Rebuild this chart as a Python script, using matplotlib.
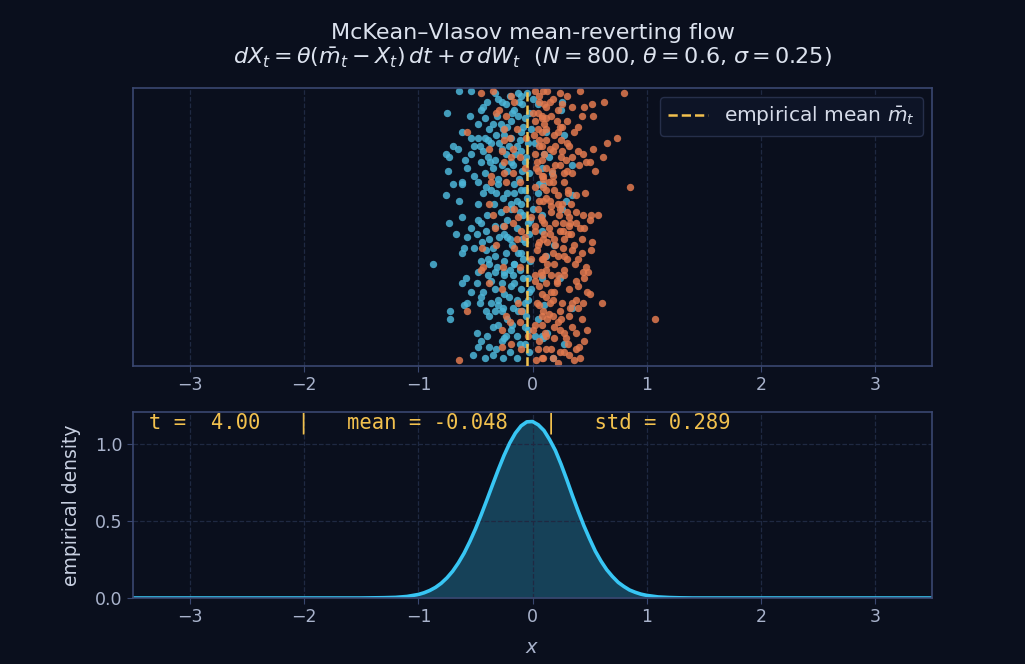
import matplotlib
matplotlib.use("Agg")
import matplotlib.pyplot as plt

# particle positions (x = position, y = jitter row)
blue_x = [-0.64, -0.54, -0.75, -0.55, -0.43, -0.33, -0.27, -0.23, -0.16, -0.42,
          -0.35, -0.48, -0.62, -0.54, -0.48, -0.42, -0.70, -0.65, -0.51, -0.46,
          -0.36, -0.32, -0.26, -0.22, -0.13, -0.09, -0.07, -0.10, -0.76, -0.73,
          -0.59, -0.54, -0.43, -0.39, -0.33, -0.27, -0.57, -0.74, -0.51, -0.42,
          -0.35, -0.19, -0.14, -0.23, -0.17, -0.10, -0.07, -0.27, 0.00, 0.05,
          -0.01, 0.02, -0.13, -0.38, -0.45,
          0.25, 0.26, 0.28, 0.12, 0.10, 0.14, 0.35, 0.17, 0.08,
          -0.70, -0.62, -0.62, -0.76, -0.64, -0.48, -0.48, -0.43, -0.36, -0.30,
          -0.32, -0.26, -0.16, -0.10, -0.10, -0.19, -0.73, -0.62, -0.48, -0.45,
          -0.54, -0.67, -0.57, -0.49, -0.41, -0.38, -0.25, -0.20, -0.60, -0.51,
          -0.62, -0.87, -0.41, -0.39, -0.33, -0.45, -0.38, -0.25, -0.16, -0.07,
          -0.10, -0.04, 0.00, 0.05, 0.06,
          0.09, 0.35, 0.29, 0.26, 0.08, 0.19, 0.12, 0.08,
          -0.62, -0.58, -0.49, -0.54, -0.43, -0.39, -0.33, -0.25, -0.17, -0.11,
          -0.33, -0.25, -0.16, -0.57, -0.46, -0.60, -0.72, -0.72, -0.36, -0.33,
          -0.27, -0.17, -0.13, -0.07, -0.35, -0.19, -0.07, -0.49, -0.45, -0.48,
          -0.38, -0.32, -0.42, -0.26, -0.14, -0.25, -0.07, 0.02, -0.01, 0.05,
          -0.30, -0.41,
          0.08, 0.24, 0.10, 0.35, 0.08, 0.13, 0.28, 0.18, 0.09,
          -0.30, -0.20, -0.40, -0.12, -0.05, -0.31, -0.19, -0.03, -0.28, -0.45,
          -0.39, -0.29, -0.21, -0.04, -0.15, -0.37, -0.22, -0.12, -0.03, -0.30,
          -0.41, -0.22, -0.05, -0.34, -0.14, -0.28, -0.40, -0.08, -0.22, -0.33,
          -0.14, -0.03, -0.29, -0.44, -0.18, -0.35, -0.23, -0.08, -0.31, -0.48,
          -0.20, -0.04, -0.36, -0.27, -0.10, -0.45, -0.21, -0.04, -0.30, -0.38,
          -0.22, -0.06, -0.30, -0.14, -0.40, -0.27, -0.03, -0.20, -0.35, -0.52,
          -0.10, -0.18, -0.08, -0.25, -0.11, -0.06, -0.19, -0.09, -0.16, -0.07,
          -0.19, -0.11, -0.02, -0.26, -0.09, -0.22, -0.13, -0.02, -0.16, -0.25,
          -0.08, -0.19, -0.03, -0.14, -0.26, -0.09, -0.18, -0.04, -0.23, -0.11]
blue_y = [0.99, 0.99, 0.91, 0.90, 0.93, 0.98, 0.95, 0.94, 0.92, 0.89,
          0.87, 0.87, 0.84, 0.82, 0.82, 0.82, 0.79, 0.78, 0.79, 0.79,
          0.80, 0.83, 0.85, 0.86, 0.90, 0.94, 0.89, 0.84, 0.76, 0.75,
          0.74, 0.76, 0.77, 0.75, 0.74, 0.78, 0.71, 0.70, 0.68, 0.69,
          0.71, 0.82, 0.79, 0.76, 0.72, 0.77, 0.73, 0.72, 0.96, 0.94,
          0.85, 0.80, 0.98, 0.85, 0.73,
          0.92, 0.95, 0.83, 0.84, 0.76, 0.75, 0.72, 0.69, 0.71,
          0.65, 0.66, 0.65, 0.61, 0.59, 0.58, 0.66, 0.62, 0.63, 0.65,
          0.62, 0.60, 0.62, 0.63, 0.58, 0.56, 0.51, 0.53, 0.52, 0.51,
          0.49, 0.47, 0.46, 0.47, 0.48, 0.45, 0.47, 0.45, 0.42, 0.42,
          0.40, 0.36, 0.41, 0.38, 0.39, 0.37, 0.36, 0.37, 0.36, 0.44,
          0.40, 0.51, 0.56, 0.62, 0.65,
          0.65, 0.61, 0.59, 0.56, 0.48, 0.43, 0.39, 0.54,
          0.29, 0.31, 0.29, 0.26, 0.26, 0.32, 0.33, 0.32, 0.32, 0.34,
          0.27, 0.25, 0.29, 0.22, 0.22, 0.21, 0.19, 0.16, 0.22, 0.19,
          0.19, 0.20, 0.19, 0.22, 0.13, 0.12, 0.13, 0.11, 0.08, 0.06,
          0.06, 0.05, 0.02, 0.02, 0.02, 0.09, 0.07, 0.10, 0.27, 0.16,
          0.23, 0.19,
          0.31, 0.31, 0.21, 0.20, 0.10, 0.11, 0.07, 0.02, 0.09,
          0.96, 0.97, 0.95, 0.95, 0.98, 0.90, 0.88, 0.91, 0.87, 0.92,
          0.81, 0.80, 0.79, 0.80, 0.76, 0.73, 0.70, 0.67, 0.69, 0.67,
          0.64, 0.62, 0.60, 0.58, 0.59, 0.55, 0.54, 0.54, 0.52, 0.50,
          0.49, 0.47, 0.46, 0.44, 0.43, 0.42, 0.40, 0.38, 0.35, 0.33,
          0.34, 0.31, 0.30, 0.29, 0.27, 0.24, 0.24, 0.23, 0.21, 0.17,
          0.16, 0.17, 0.14, 0.10, 0.10, 0.08, 0.04, 0.04, 0.03, 0.03,
          0.97, 0.91, 0.86, 0.83, 0.81, 0.75, 0.73, 0.70, 0.65, 0.63,
          0.58, 0.55, 0.52, 0.50, 0.45, 0.46, 0.40, 0.37, 0.36, 0.33,
          0.31, 0.28, 0.26, 0.23, 0.20, 0.19, 0.14, 0.12, 0.10, 0.07]

orange_x = [-0.45, -0.35, -0.19, -0.16, -0.29, -0.23, -0.57, -0.25, -0.20, -0.38,
            -0.25, -0.17, -0.27, -0.19, -0.25, -0.11, -0.07, -0.25, -0.17, -0.36,
            0.05, 0.08, 0.05, 0.06, 0.08, 0.00, 0.06, -0.32, -0.14, -0.06,
            0.03, 0.08,
            0.09, 0.13, 0.24, 0.42, 0.80, 0.15, 0.26, 0.12, 0.08, 0.45,
            0.52, 0.63, 0.43, 0.53, 0.21, 0.24, 0.10, 0.08, 0.19, 0.12,
            0.25, 0.74, 0.08, 0.18, 0.26, 0.32, 0.40, 0.44, 0.53, 0.65,
            0.62, 0.29, 0.24, 0.12, 0.41, 0.47, 0.50, 0.35, 0.28, 0.18, 0.09,
            -0.36, -0.23, -0.11, -0.38, -0.23, -0.16, -0.35, -0.17, -0.13, -0.25,
            -0.33, -0.10, -0.14, -0.44, -0.32, -0.16, -0.07, -0.01, 0.02, 0.06,
            0.05, 0.08, -0.01, -0.11, -0.43, -0.26, 0.08,
            0.09, 0.18, 0.19, 0.12, 0.15, 0.09, 0.22, 0.85, 0.31, 0.34,
            0.24, 0.16, 0.38, 0.44, 0.51, 0.57, 0.50, 0.32, 0.27, 0.10,
            0.38, 0.32, 0.45, 0.24, 0.15, 0.27, 0.34, 0.19, 0.09, 0.43,
            0.13, 0.27, 0.35, 0.51, 0.43, 0.18, 0.28, 0.40, 0.09, 0.19,
            0.13, 0.37, 0.47,
            -0.45, -0.38, -0.27, -0.13, -0.10, -0.23, -0.20, -0.27, -0.11, -0.57,
            -0.19, -0.27, -0.10, 0.05, 0.08, -0.64, -0.04, 0.00, 0.06, 0.06,
            0.02, 0.08,
            0.08, 0.16, 0.22, 0.28, 0.44, 0.49, 0.45, 0.38, 0.21, 0.12,
            0.32, 0.48, 0.50, 0.38, 0.19, 0.12, 0.18, 0.35, 0.61, 1.07,
            0.09, 0.24, 0.40, 0.18, 0.13, 0.25, 0.43, 0.08, 0.19, 0.35,
            0.28, 0.12, 0.19, 0.31, 0.41, 0.45, 0.38, 0.12, 0.18, 0.24,
            0.32, 0.42, 0.09,
            0.02, 0.18, 0.30, 0.10, 0.35, 0.02, 0.16, 0.30, 0.12, 0.36,
            0.01, 0.22, 0.30, 0.15, 0.02, 0.35, 0.20, 0.05, 0.30, 0.14,
            0.28, 0.02, 0.22, 0.38, 0.05, 0.16, 0.30, 0.02, 0.20, 0.42,
            0.10, 0.28, 0.04, 0.22, 0.36, 0.12, 0.28, 0.02, 0.40, 0.16,
            0.04, 0.26, 0.44, 0.14, 0.32, 0.02, 0.24, 0.38, 0.06, 0.16,
            0.28, 0.03, 0.22, 0.36, 0.48, 0.52, 0.46, 0.40, 0.55, 0.33,
            0.06, 0.22, 0.12, 0.26, 0.06, 0.20, 0.10, 0.25, 0.04, 0.17,
            0.09, 0.31, 0.12, 0.26, 0.07, 0.23, 0.14, 0.31, 0.06, 0.20,
            0.11, 0.30, 0.07, 0.21, 0.15, 0.33, 0.08, 0.22, 0.29, 0.11]
orange_y = [0.98, 0.99, 0.97, 0.95, 0.92, 0.90, 0.84, 0.85, 0.82, 0.78,
            0.81, 0.78, 0.77, 0.75, 0.73, 0.75, 0.71, 0.69, 0.69, 0.68,
            0.91, 0.89, 0.85, 0.79, 0.74, 0.91, 0.97, 0.91, 0.85, 0.82,
            0.71, 0.68,
            0.99, 0.99, 0.98, 0.99, 0.98, 0.95, 0.94, 0.93, 0.90, 0.93,
            0.94, 0.95, 0.90, 0.90, 0.88, 0.86, 0.87, 0.84, 0.83, 0.81,
            0.81, 0.82, 0.79, 0.77, 0.77, 0.79, 0.77, 0.76, 0.78, 0.80,
            0.75, 0.74, 0.72, 0.71, 0.72, 0.73, 0.73, 0.69, 0.69, 0.68, 0.68,
            0.66, 0.66, 0.66, 0.58, 0.56, 0.56, 0.54, 0.51, 0.53, 0.50,
            0.49, 0.48, 0.45, 0.42, 0.43, 0.42, 0.46, 0.53, 0.48, 0.59,
            0.43, 0.38, 0.38, 0.35, 0.35, 0.35, 0.52,
            0.67, 0.66, 0.63, 0.63, 0.59, 0.59, 0.58, 0.64, 0.63, 0.58,
            0.56, 0.55, 0.55, 0.54, 0.54, 0.54, 0.52, 0.53, 0.51, 0.51,
            0.51, 0.50, 0.49, 0.48, 0.47, 0.48, 0.47, 0.45, 0.45, 0.45,
            0.44, 0.42, 0.41, 0.41, 0.40, 0.40, 0.39, 0.38, 0.38, 0.36,
            0.36, 0.36, 0.35,
            0.34, 0.29, 0.27, 0.22, 0.19, 0.17, 0.15, 0.12, 0.15, 0.19,
            0.07, 0.06, 0.05, 0.05, 0.02, 0.01, 0.10, 0.12, 0.21, 0.28,
            0.32, 0.25,
            0.32, 0.32, 0.32, 0.32, 0.33, 0.33, 0.31, 0.30, 0.29, 0.29,
            0.27, 0.26, 0.25, 0.23, 0.26, 0.24, 0.23, 0.22, 0.22, 0.16,
            0.19, 0.19, 0.20, 0.17, 0.16, 0.16, 0.16, 0.14, 0.13, 0.13,
            0.11, 0.10, 0.09, 0.07, 0.06, 0.08, 0.05, 0.05, 0.02, 0.04,
            0.03, 0.02, 0.02,
            0.99, 0.96, 0.97, 0.94, 0.93, 0.88, 0.90, 0.88, 0.85, 0.84,
            0.83, 0.84, 0.80, 0.78, 0.76, 0.75, 0.72, 0.70, 0.70, 0.66,
            0.66, 0.64, 0.61, 0.61, 0.56, 0.57, 0.55, 0.50, 0.51, 0.49,
            0.47, 0.45, 0.41, 0.39, 0.43, 0.34, 0.34, 0.30, 0.28, 0.26,
            0.22, 0.22, 0.22, 0.18, 0.17, 0.14, 0.12, 0.11, 0.08, 0.05,
            0.04, 0.01, 0.00, 0.01, 0.12, 0.44, 0.62, 0.86, 0.70, 0.51,
            0.95, 0.92, 0.89, 0.86, 0.81, 0.79, 0.76, 0.75, 0.73, 0.70,
            0.64, 0.62, 0.60, 0.58, 0.53, 0.54, 0.49, 0.47, 0.44, 0.43,
            0.39, 0.38, 0.33, 0.30, 0.22, 0.20, 0.17, 0.15, 0.09, 0.11]

# empirical density curve
dens_x = [-3.5, -1.5, -1.4, -1.3, -1.2, -1.1, -1.0, -0.95, -0.9, -0.85, -0.8,
          -0.75, -0.7, -0.65, -0.6, -0.55, -0.5, -0.45, -0.4, -0.35, -0.3,
          -0.25, -0.2, -0.15, -0.1, -0.05, 0.0, 0.05, 0.1, 0.15, 0.2, 0.25,
          0.3, 0.35, 0.4, 0.45, 0.5, 0.55, 0.6, 0.65, 0.7, 0.75, 0.8, 0.85,
          0.9, 0.95, 1.0, 1.1, 1.2, 1.3, 1.4, 1.5, 3.5]
dens_y = [0.0, 0.0, 0.001, 0.002, 0.004, 0.010, 0.023, 0.034, 0.049, 0.069, 0.096,
          0.131, 0.174, 0.228, 0.291, 0.366, 0.449, 0.541, 0.638, 0.737, 0.835,
          0.927, 1.008, 1.073, 1.12, 1.146, 1.148, 1.127, 1.09, 1.03, 0.96, 0.87,
          0.77, 0.665, 0.565, 0.47, 0.385, 0.305, 0.24, 0.184, 0.14, 0.102, 0.075, 0.052,
          0.037, 0.025, 0.017, 0.007, 0.003, 0.001, 0.0, 0.0, 0.0]

m_bar = -0.048
t_now = 4.00
std_now = 0.289

BG = "#0a0f1d"
SPINE = "#3a4770"
TICK = "#a9b3cc"
GRID = "#1f2942"
BLUE = "#4db6d8"
ORANGE = "#e27a4f"
GOLD = "#f2c14e"
CURVE = "#38c6f4"

plt.rcParams['font.family'] = ['DejaVu Sans']
fig = plt.figure(figsize=(10.25, 6.64), dpi=100, facecolor=BG)
ax1 = fig.add_axes([0.1298, 0.4488, 0.7795, 0.4187])
ax2 = fig.add_axes([0.1298, 0.0994, 0.7795, 0.2801])

for ax in (ax1, ax2):
    ax.set_facecolor(BG)
    for s in ax.spines.values():
        s.set_color(SPINE)
        s.set_linewidth(1.2)
    ax.tick_params(colors=TICK, labelsize=12.5, length=4, color=SPINE)
    ax.set_xlim(-3.5, 3.5)
    ax.set_xticks([-3, -2, -1, 0, 1, 2, 3])
    ax.grid(True, color=GRID, linestyle="--", linewidth=0.9)

ax1.scatter(blue_x, blue_y, s=28, color=BLUE, alpha=0.85, linewidths=0, zorder=2)
ax1.scatter(orange_x, orange_y, s=28, color=ORANGE, alpha=0.85, linewidths=0, zorder=2)
ax1.axvline(m_bar, color=GOLD, linestyle="--", linewidth=1.8, zorder=3,
            label=r"empirical mean $\bar{m}_t$")
ax1.set_ylim(-0.01, 1.0)
ax1.set_yticks([])
lg = ax1.legend(loc="upper right", fontsize=14.5, facecolor="#0d1426",
                edgecolor="#262f4a", labelcolor="#d5dbe8", framealpha=1.0,
                borderaxespad=0.45)
ax1.set_title("McKean–Vlasov mean-reverting flow\n"
              r"$dX_t = \theta(\bar{m}_t - X_t)\,dt + \sigma\,dW_t$  "
              r"($N = 800$, $\theta = 0.6$, $\sigma = 0.25$)",
              color="#dce2ee", fontsize=16, pad=17, linespacing=1.15)

ax2.fill_between(dens_x, dens_y, 0, color=CURVE, alpha=0.28, linewidth=0)
ax2.plot(dens_x, dens_y, color=CURVE, linewidth=2.6)
ax2.set_ylim(0, 1.21)
ax2.set_yticks([0.0, 0.5, 1.0])
ax2.set_xlabel("$x$", color=TICK, fontsize=14, labelpad=8)
ax2.set_ylabel("empirical density", color="#c9d1e2", fontsize=13.5, labelpad=10)
ax2.text(0.02, 0.995, f"t = {t_now:5.2f}   |   mean = {m_bar:.3f}   |   std = {std_now:.3f}",
         transform=ax2.transAxes, ha="left", va="top", color=GOLD,
         family="DejaVu Sans Mono", fontsize=14.8)

fig.savefig("out.png", dpi=100, facecolor=BG)
